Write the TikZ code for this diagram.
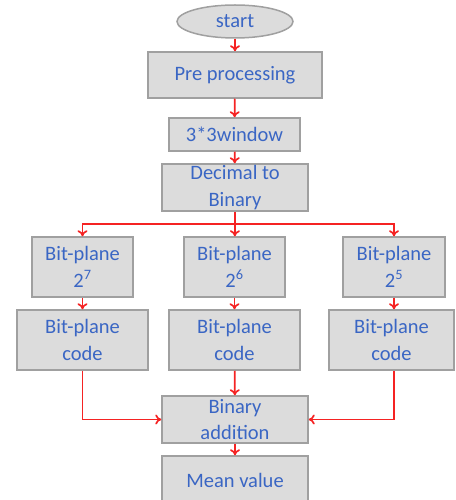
\documentclass[tikz,border=0pt]{standalone}
\usepackage{fontspec}
\setmainfont{Carlito}
\usetikzlibrary{arrows.meta,shapes.geometric}
\definecolor{txtblue}{RGB}{58,102,196}
\definecolor{boxfill}{RGB}{220,220,220}
\definecolor{boxline}{RGB}{160,160,160}
\definecolor{arrred}{RGB}{245,35,35}
\begin{document}
\begin{tikzpicture}[x=1pt,y=-1pt,
  box/.style={draw=boxline,fill=boxfill,line width=1.5pt,inner sep=0pt,align=center,
    text=txtblue,font=\fontsize{20.5}{26.5}\selectfont},
  term/.style={box,ellipse},
  flow/.style={draw=arrred,line width=1.7pt,-{To[length=6pt,width=10pt]}},
  link/.style={draw=arrred,line width=1.7pt}]
\useasboundingbox (0,0) rectangle (455,500);
\clip (0,0) rectangle (455,500);
\node[term,minimum width=116pt,minimum height=33pt] (start) at (235,21.5) {start};
\node[box,minimum width=174pt,minimum height=46pt] (pre) at (235,75) {Pre processing};
\node[box,minimum width=131pt,minimum height=33pt] (win) at (234.5,134.5) {3*3window};
\node[box,minimum width=146pt,minimum height=47pt] (dec) at (235,187.5) {Decimal to\\Binary};
\node[box,minimum width=101pt,minimum height=60pt] (b7) at (82.5,267) {Bit-plane\\2\textsuperscript{7}};
\node[box,minimum width=101pt,minimum height=60pt] (b6) at (234.5,267) {Bit-plane\\2\textsuperscript{6}};
\node[box,minimum width=102pt,minimum height=60pt] (b5) at (394,267) {Bit-plane\\2\textsuperscript{5}};
\node[box,minimum width=131pt,minimum height=60pt] (c7) at (82.5,340) {Bit-plane\\code};
\node[box,minimum width=131pt,minimum height=60pt] (c6) at (234.5,340) {Bit-plane\\code};
\node[box,minimum width=125pt,minimum height=60pt] (c5) at (391.5,340) {Bit-plane\\code};
\node[box,minimum width=146pt,minimum height=47pt] (add) at (235,419.5) {Binary\\addition};
\node[box,minimum width=146pt,minimum height=48pt] (mean) at (235,480) {Mean value};
\coordinate (br) at (235,224);
\path[flow] (start) -- (pre);
\path[flow] (pre) -- (win);
\path[flow] (win) -- (dec);
\path[link] (dec) -- (br);
\path[flow] (br) -| (b7.north);
\path[flow] (br) -- (b6);
\path[flow] (br) -| (b5.north);
\path[flow] (b7) -- (c7);
\path[flow] (b6) -- (c6);
\path[flow] (b5.south) -- (b5.south |- c5.north);
\path[flow] (c7.south) |- (add.west);
\path[flow] (c6) -- (add);
\path[flow] (b5.south |- c5.south) |- (add.east);
\path[flow] (add) -- (mean);
\end{tikzpicture}
\end{document}
